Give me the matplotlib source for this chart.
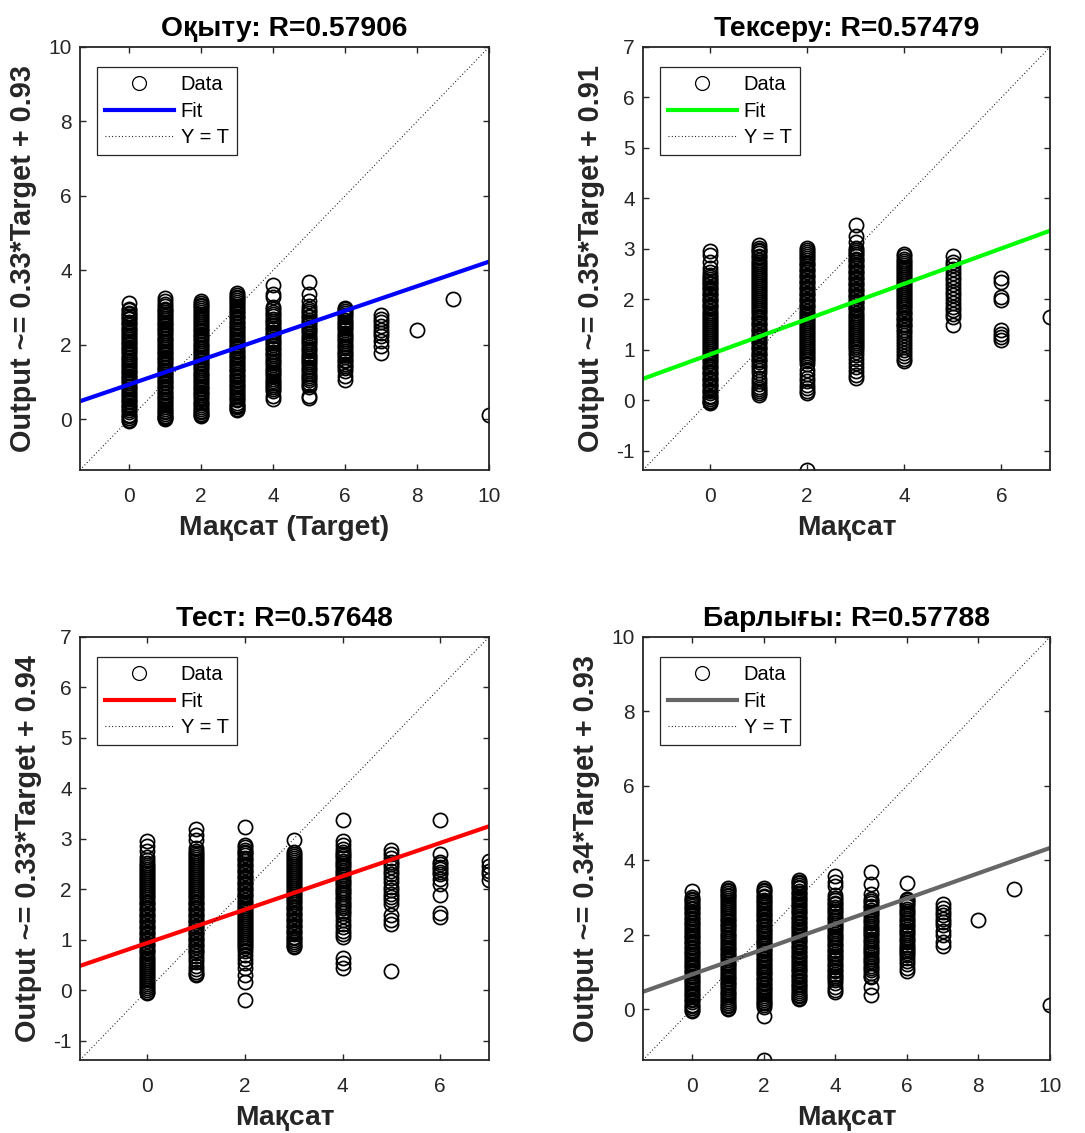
import matplotlib
matplotlib.use('Agg')
import matplotlib.pyplot as plt
from matplotlib.lines import Line2D
import numpy as np

plt.rcParams['font.family'] = ['Liberation Sans', 'DejaVu Sans']
plt.rcParams['axes.unicode_minus'] = False

train_targets = [0, 1, 2, 3, 4, 5, 6, 7, 8, 9, 10]
train_outputs = [
    [3.12, 2.97, 2.93, 2.86, 2.83, 2.77, 2.71, 2.68, 2.61, 2.57, 2.52, 2.45, 2.42, 2.36, 2.31, 2.27, 2.2, 2.16, 2.11,
     2.05, 2.01, 1.94, 1.9, 1.85, 1.79, 1.75, 1.68, 1.64, 1.59, 1.53, 1.49, 1.42, 1.38, 1.33, 1.27, 1.23, 1.16, 1.12,
     1.07, 1.01, 0.97, 0.9, 0.86, 0.81, 0.75, 0.71, 0.64, 0.6, 0.55, 0.49, 0.45, 0.38, 0.34, 0.29, 0.23, 0.19, 0.12,
     0.08, 0.03, -0.02, -0.06],
    [3.26, 3.17, 3.08, 3.04, 2.97, 2.93, 2.88, 2.82, 2.78, 2.71, 2.67, 2.62, 2.56, 2.52, 2.45, 2.41, 2.36, 2.3, 2.26,
     2.19, 2.15, 2.1, 2.04, 2.0, 1.93, 1.89, 1.84, 1.78, 1.74, 1.67, 1.63, 1.58, 1.52, 1.48, 1.41, 1.37, 1.32, 1.26,
     1.22, 1.15, 1.11, 1.06, 1.0, 0.96, 0.89, 0.85, 0.8, 0.74, 0.7, 0.63, 0.59, 0.54, 0.48, 0.44, 0.37, 0.33, 0.28,
     0.22, 0.18, 0.13, 0.09, 0.05, 0.02, -0.01],
    [3.16, 3.12, 3.07, 3.03, 2.98, 2.92, 2.88, 2.81, 2.77, 2.72, 2.66, 2.62, 2.55, 2.51, 2.46, 2.4, 2.36, 2.29, 2.25,
     2.2, 2.14, 2.1, 2.03, 1.99, 1.94, 1.88, 1.84, 1.77, 1.73, 1.68, 1.62, 1.58, 1.51, 1.47, 1.42, 1.36, 1.32, 1.25,
     1.21, 1.16, 1.1, 1.06, 0.99, 0.95, 0.9, 0.84, 0.8, 0.73, 0.69, 0.64, 0.58, 0.54, 0.47, 0.43, 0.38, 0.32, 0.28,
     0.22, 0.18, 0.14, 0.1, 0.07],
    [3.38, 3.34, 3.29, 3.24, 3.2, 3.14, 3.1, 3.03, 2.99, 2.94, 2.88, 2.84, 2.77, 2.73, 2.68, 2.62, 2.58, 2.51, 2.47,
     2.42, 2.36, 2.32, 2.25, 2.21, 2.16, 2.1, 2.06, 1.99, 1.95, 1.9, 1.84, 1.8, 1.73, 1.69, 1.64, 1.58, 1.54, 1.47,
     1.43, 1.38, 1.32, 1.28, 1.21, 1.17, 1.12, 1.06, 1.02, 0.95, 0.91, 0.86, 0.8, 0.76, 0.69, 0.65, 0.6, 0.54, 0.5,
     0.44, 0.39, 0.35, 0.31, 0.28, 0.25],
    [3.6, 3.35, 3.27, 3.0, 2.95, 2.89, 2.82, 2.77, 2.7, 2.64, 2.59, 2.52, 2.46, 2.41, 2.34, 2.28, 2.23, 2.16, 2.1,
     2.05, 1.98, 1.92, 1.87, 1.8, 1.74, 1.69, 1.62, 1.56, 1.51, 1.44, 1.38, 1.33, 1.26, 1.2, 1.15, 1.08, 1.02, 0.97,
     0.91, 0.86, 0.8, 0.75, 0.62, 0.54],
    [3.67, 3.35, 3.17, 3.04, 2.96, 2.91, 2.84, 2.78, 2.73, 2.66, 2.6, 2.55, 2.48, 2.42, 2.37, 2.3, 2.24, 2.19, 2.12,
     2.06, 2.01, 1.94, 1.88, 1.83, 1.76, 1.7, 1.65, 1.58, 1.52, 1.47, 1.4, 1.34, 1.29, 1.22, 1.16, 1.11, 1.04, 0.98,
     0.92, 0.85, 0.62, 0.57],
    [2.99, 2.95, 2.9, 2.84, 2.79, 2.73, 2.67, 2.62, 2.56, 2.5, 2.45, 2.38, 2.32, 2.27, 2.2, 2.14, 2.09, 2.02, 1.96,
     1.91, 1.84, 1.78, 1.73, 1.66, 1.6, 1.55, 1.48, 1.42, 1.36, 1.3, 1.17, 1.04],
    [2.8, 2.7, 2.6, 2.5, 2.4, 2.32, 2.22, 2.1, 1.95, 1.78],
    [2.38],
    [3.22],
    [0.12],
]

val_targets = [0, 1, 2, 3, 4, 5, 6, 7]
val_outputs = [
    [2.96, 2.88, 2.75, 2.62, 2.55, 2.49, 2.44, 2.41, 2.37, 2.33, 2.3, 2.25, 2.22, 2.18, 2.13, 2.1, 2.06, 2.01, 1.98,
     1.94, 1.89, 1.86, 1.82, 1.77, 1.74, 1.7, 1.65, 1.62, 1.58, 1.53, 1.5, 1.46, 1.41, 1.38, 1.34, 1.29, 1.26, 1.22,
     1.17, 1.14, 1.1, 1.05, 1.02, 0.98, 0.93, 0.9, 0.86, 0.81, 0.78, 0.74, 0.69, 0.66, 0.62, 0.57, 0.54, 0.5, 0.45,
     0.42, 0.38, 0.33, 0.3, 0.26, 0.21, 0.18, 0.14, 0.09, 0.06, 0.02, -0.01, -0.03, -0.05],
    [3.07, 3.02, 2.98, 2.95, 2.91, 2.86, 2.83, 2.79, 2.74, 2.71, 2.67, 2.62, 2.59, 2.55, 2.5, 2.47, 2.43, 2.38, 2.35,
     2.31, 2.26, 2.23, 2.19, 2.14, 2.11, 2.07, 2.02, 1.99, 1.95, 1.9, 1.87, 1.83, 1.78, 1.75, 1.71, 1.66, 1.63, 1.59,
     1.54, 1.51, 1.47, 1.42, 1.39, 1.35, 1.3, 1.27, 1.23, 1.18, 1.15, 1.11, 1.06, 1.03, 0.99, 0.94, 0.91, 0.87, 0.82,
     0.79, 0.75, 0.7, 0.66, 0.6, 0.55, 0.45, 0.38, 0.33, 0.27, 0.22, 0.18, 0.14, 0.1],
    [3.01, 2.97, 2.94, 2.9, 2.85, 2.82, 2.78, 2.73, 2.7, 2.66, 2.61, 2.58, 2.54, 2.49, 2.46, 2.42, 2.37, 2.34, 2.3,
     2.25, 2.22, 2.18, 2.13, 2.1, 2.06, 2.01, 1.98, 1.94, 1.89, 1.86, 1.82, 1.77, 1.74, 1.7, 1.65, 1.62, 1.58, 1.53,
     1.5, 1.46, 1.41, 1.38, 1.34, 1.29, 1.26, 1.22, 1.17, 1.14, 1.1, 1.05, 1.02, 0.98, 0.93, 0.9, 0.86, 0.81, 0.77,
     0.72, 0.6, 0.52, 0.45, 0.38, 0.3, 0.24, 0.19, 0.14, -1.38],
    [3.48, 3.26, 3.13, 3.02, 2.98, 2.93, 2.9, 2.86, 2.81, 2.78, 2.74, 2.69, 2.66, 2.62, 2.57, 2.54, 2.5, 2.45, 2.42,
     2.38, 2.33, 2.3, 2.26, 2.21, 2.18, 2.14, 2.09, 2.06, 2.02, 1.97, 1.94, 1.9, 1.85, 1.82, 1.78, 1.73, 1.7, 1.66,
     1.61, 1.58, 1.54, 1.49, 1.46, 1.42, 1.37, 1.34, 1.3, 1.25, 1.22, 1.18, 1.13, 1.1, 1.06, 1.01, 0.96, 0.9, 0.82,
     0.74, 0.66, 0.58, 0.51, 0.45],
    [2.89, 2.85, 2.81, 2.77, 2.72, 2.69, 2.65, 2.6, 2.57, 2.53, 2.48, 2.45, 2.41, 2.36, 2.33, 2.29, 2.24, 2.21, 2.17,
     2.12, 2.09, 2.05, 2.0, 1.97, 1.93, 1.88, 1.85, 1.81, 1.76, 1.73, 1.69, 1.64, 1.61, 1.57, 1.52, 1.49, 1.45, 1.4,
     1.36, 1.3, 1.24, 1.18, 1.12, 1.06, 1.0, 0.94, 0.88, 0.82, 0.78],
    [2.86, 2.75, 2.68, 2.6, 2.52, 2.45, 2.38, 2.3, 2.22, 2.15, 2.08, 2.0, 1.92, 1.85, 1.78, 1.72, 1.65, 1.5],
    [2.42, 2.34, 2.04, 1.99, 1.39, 1.32, 1.25, 1.2],
    [1.65],
]

test_targets = [0, 1, 2, 3, 4, 5, 6, 7]
test_outputs = [
    [2.95, 2.86, 2.76, 2.65, 2.58, 2.52, 2.48, 2.45, 2.41, 2.36, 2.33, 2.29, 2.24, 2.21, 2.17, 2.12, 2.09, 2.05, 2.0,
     1.97, 1.93, 1.88, 1.85, 1.81, 1.76, 1.73, 1.69, 1.64, 1.61, 1.57, 1.52, 1.49, 1.45, 1.4, 1.37, 1.33, 1.28, 1.25,
     1.21, 1.16, 1.13, 1.09, 1.04, 1.01, 0.97, 0.92, 0.89, 0.85, 0.8, 0.77, 0.73, 0.68, 0.65, 0.61, 0.56, 0.53, 0.49,
     0.44, 0.41, 0.37, 0.32, 0.29, 0.25, 0.2, 0.17, 0.13, 0.08, 0.05, 0.01, -0.03, -0.06],
    [3.2, 3.07, 2.98, 2.82, 2.76, 2.72, 2.69, 2.65, 2.6, 2.57, 2.53, 2.48, 2.45, 2.41, 2.36, 2.33, 2.29, 2.24, 2.21,
     2.17, 2.12, 2.09, 2.05, 2.0, 1.97, 1.93, 1.88, 1.85, 1.81, 1.76, 1.73, 1.69, 1.64, 1.61, 1.57, 1.52, 1.49, 1.45,
     1.4, 1.37, 1.33, 1.28, 1.25, 1.21, 1.16, 1.13, 1.09, 1.04, 1.01, 0.97, 0.92, 0.89, 0.85, 0.8, 0.77, 0.73, 0.68,
     0.63, 0.57, 0.48, 0.42, 0.37, 0.33, 0.3],
    [3.23, 2.88, 2.83, 2.79, 2.75, 2.72, 2.68, 2.63, 2.6, 2.56, 2.51, 2.48, 2.44, 2.39, 2.36, 2.32, 2.27, 2.24, 2.2,
     2.15, 2.12, 2.08, 2.03, 2.0, 1.96, 1.91, 1.88, 1.84, 1.79, 1.76, 1.72, 1.67, 1.64, 1.6, 1.55, 1.52, 1.48, 1.43,
     1.4, 1.36, 1.31, 1.28, 1.24, 1.19, 1.16, 1.12, 1.07, 1.04, 1.0, 0.95, 0.92, 0.88, 0.84, 0.78, 0.7, 0.62, 0.55,
     0.45, 0.3, 0.16, -0.19],
    [2.97, 2.74, 2.71, 2.67, 2.62, 2.59, 2.55, 2.5, 2.47, 2.43, 2.38, 2.35, 2.31, 2.26, 2.23, 2.19, 2.14, 2.11, 2.07,
     2.02, 1.99, 1.95, 1.9, 1.87, 1.83, 1.78, 1.75, 1.71, 1.66, 1.63, 1.59, 1.54, 1.51, 1.47, 1.42, 1.39, 1.35, 1.3,
     1.27, 1.23, 1.18, 1.15, 1.11, 1.06, 1.03, 0.99, 0.95, 0.91, 0.88, 0.85],
    [3.38, 2.95, 2.88, 2.8, 2.75, 2.71, 2.66, 2.62, 2.57, 2.53, 2.48, 2.44, 2.39, 2.35, 2.3, 2.26, 2.21, 2.17, 2.12,
     2.08, 2.03, 1.99, 1.94, 1.9, 1.85, 1.81, 1.76, 1.72, 1.67, 1.63, 1.58, 1.53, 1.47, 1.4, 1.32, 1.25, 1.18, 1.11,
     1.05, 0.65, 0.55, 0.45],
    [2.78, 2.71, 2.62, 2.55, 2.5, 2.44, 2.37, 2.3, 2.22, 2.15, 2.05, 1.98, 1.91, 1.85, 1.78, 1.72, 1.5, 1.4, 1.31, 0.39],
    [3.38, 2.71, 2.55, 2.5, 2.45, 2.4, 2.35, 2.3, 2.2, 2.1, 1.89, 1.53, 1.45],
    [2.56, 2.46, 2.36, 2.3, 2.18],
]

all_targets = [0, 1, 2, 3, 4, 5, 6, 7, 8, 9, 10]
all_outputs = [
    [3.16, 3.02, 2.97, 2.93, 2.87, 2.83, 2.78, 2.72, 2.68, 2.61, 2.57, 2.52, 2.46, 2.42, 2.35, 2.31, 2.26, 2.2, 2.16,
     2.09, 2.05, 2.0, 1.94, 1.9, 1.83, 1.79, 1.74, 1.68, 1.64, 1.57, 1.53, 1.48, 1.42, 1.38, 1.31, 1.27, 1.22, 1.16,
     1.12, 1.05, 1.01, 0.96, 0.9, 0.86, 0.79, 0.75, 0.7, 0.64, 0.6, 0.53, 0.49, 0.44, 0.38, 0.34, 0.27, 0.23, 0.18,
     0.12, 0.08, 0.03, -0.02, -0.06],
    [3.25, 3.21, 3.17, 3.13, 3.07, 3.03, 2.98, 2.92, 2.88, 2.81, 2.77, 2.72, 2.66, 2.62, 2.55, 2.51, 2.46, 2.4, 2.36,
     2.29, 2.25, 2.2, 2.14, 2.1, 2.03, 1.99, 1.94, 1.88, 1.84, 1.77, 1.73, 1.68, 1.62, 1.58, 1.51, 1.47, 1.42, 1.36,
     1.32, 1.25, 1.21, 1.16, 1.1, 1.06, 0.99, 0.95, 0.9, 0.84, 0.8, 0.73, 0.69, 0.64, 0.58, 0.54, 0.47, 0.43, 0.38,
     0.32, 0.28, 0.21, 0.17, 0.12, 0.07, 0.03, -0.01],
    [3.25, 3.2, 3.16, 3.11, 3.05, 3.01, 2.94, 2.9, 2.85, 2.79, 2.75, 2.68, 2.64, 2.59, 2.53, 2.49, 2.42, 2.38, 2.33,
     2.27, 2.23, 2.16, 2.12, 2.07, 2.01, 1.97, 1.9, 1.86, 1.81, 1.75, 1.71, 1.64, 1.6, 1.55, 1.49, 1.45, 1.38, 1.34,
     1.29, 1.23, 1.19, 1.12, 1.08, 1.03, 0.97, 0.93, 0.86, 0.82, 0.77, 0.71, 0.67, 0.6, 0.56, 0.51, 0.45, 0.41, 0.34,
     0.3, 0.25, 0.19, 0.15, 0.1, 0.06, -0.2, -1.37],
    [3.47, 3.42, 3.38, 3.33, 3.28, 3.24, 3.18, 3.13, 3.09, 3.02, 2.98, 2.93, 2.87, 2.83, 2.76, 2.72, 2.67, 2.61, 2.57,
     2.5, 2.46, 2.41, 2.35, 2.31, 2.24, 2.2, 2.15, 2.09, 2.05, 1.98, 1.94, 1.89, 1.83, 1.79, 1.72, 1.68, 1.63, 1.57,
     1.53, 1.46, 1.42, 1.37, 1.31, 1.27, 1.2, 1.16, 1.11, 1.05, 1.01, 0.94, 0.9, 0.85, 0.79, 0.75, 0.68, 0.64, 0.59,
     0.53, 0.49, 0.43, 0.38, 0.34, 0.3, 0.27],
    [3.58, 3.42, 3.3, 3.06, 2.98, 2.93, 2.86, 2.81, 2.75, 2.68, 2.63, 2.57, 2.5, 2.45, 2.39, 2.32, 2.27, 2.21, 2.14,
     2.09, 2.03, 1.96, 1.91, 1.85, 1.78, 1.73, 1.67, 1.6, 1.55, 1.49, 1.42, 1.37, 1.31, 1.24, 1.19, 1.13, 1.06, 1.01,
     0.95, 0.88, 0.83, 0.77, 0.7, 0.6, 0.52, 0.45],
    [3.68, 3.35, 3.1, 2.96, 2.91, 2.85, 2.78, 2.73, 2.67, 2.6, 2.55, 2.49, 2.42, 2.37, 2.31, 2.24, 2.19, 2.13, 2.06,
     2.01, 1.95, 1.88, 1.83, 1.77, 1.7, 1.65, 1.59, 1.52, 1.47, 1.41, 1.34, 1.29, 1.23, 1.16, 1.1, 1.04, 0.98, 0.9,
     0.85, 0.58, 0.39],
    [3.4, 2.96, 2.92, 2.87, 2.81, 2.76, 2.7, 2.63, 2.58, 2.52, 2.45, 2.4, 2.34, 2.27, 2.22, 2.16, 2.09, 2.04, 1.98,
     1.91, 1.86, 1.8, 1.73, 1.68, 1.62, 1.55, 1.5, 1.44, 1.37, 1.3, 1.2, 1.1, 1.02],
    [2.82, 2.72, 2.62, 2.52, 2.43, 2.35, 2.25, 2.1, 2.0, 1.8, 1.7],
    [2.38],
    [3.22],
    [0.12],
]

titles = ['Оқыту: R=0.57906', 'Тексеру: R=0.57479', 'Тест: R=0.57648', 'Барлығы: R=0.57788']
xlabels = ['Мақсат (Target)', 'Мақсат', 'Мақсат', 'Мақсат']
slopes = [0.33, 0.35, 0.33, 0.34]
intercepts = [0.93, 0.91, 0.94, 0.93]
fit_colors = ['#0000ff', '#00ff00', '#ff0000', '#666666']
axis_low = [-1.37, -1.38, -1.38, -1.37]
axis_high = [10, 7, 7, 10]

INK = '#262626'
W, H = 1085, 1133
fig = plt.figure(figsize=(W / 100, H / 100), dpi=100)

# axes boxes in pixels: left, top, right, bottom
boxes = [(80, 47, 489, 470), (643, 47, 1050, 470), (80, 637, 489, 1060), (643, 637, 1050, 1060)]
panels = [(train_targets, train_outputs), (val_targets, val_outputs),
          (test_targets, test_outputs), (all_targets, all_outputs)]

for i, (box, (targets, outputs)) in enumerate(zip(boxes, panels)):
    l, t, r, b = box
    ax = fig.add_axes([l / W, 1 - b / H, (r - l) / W, (b - t) / H])
    lo, hi = axis_low[i], axis_high[i]

    xs = np.concatenate([[tg] * len(out) for tg, out in zip(targets, outputs)])
    ys = np.concatenate(outputs)
    ax.plot(xs, ys, 'o', ls='none', mfc='none', mec='black', ms=10.2, mew=1.25)

    lim = np.array([lo, hi])
    ax.plot(lim, slopes[i] * lim + intercepts[i], color=fit_colors[i], lw=3)
    ax.plot(lim, lim, color='black', lw=0.8, dashes=(0.8, 2.2))

    ax.set_xlim(lo, hi)
    ax.set_ylim(lo, hi)
    if hi == 10:
        ax.set_xticks([0, 2, 4, 6, 8, 10])
        ax.set_yticks([0, 2, 4, 6, 8, 10])
    else:
        ax.set_xticks([0, 2, 4, 6])
        ax.set_yticks([-1, 0, 1, 2, 3, 4, 5, 6, 7])

    for sp in ax.spines.values():
        sp.set_color(INK)
        sp.set_linewidth(1.3)
    ax.tick_params(direction='in', length=4, width=1, color=INK, labelcolor=INK,
                   labelsize=15, top=True, right=True)
    ax.tick_params(axis='x', pad=12)
    ax.tick_params(axis='y', pad=6)

    ax.set_title(titles[i], fontsize=20.3, fontweight='bold', pad=8)
    ax.set_xlabel(xlabels[i], fontsize=20.3, fontweight='bold', color=INK, labelpad=7)
    ax.set_ylabel(f'Output ~= {slopes[i]:.2f}*Target + {intercepts[i]:.2f}',
                  fontsize=20.8, fontweight='bold', color=INK, labelpad=8)

    handles = [
        Line2D([], [], ls='none', marker='o', mfc='none', mec='black', ms=10, mew=0.9),
        Line2D([], [], color=fit_colors[i], lw=3),
        Line2D([], [], color='black', lw=0.8, dashes=(0.8, 2.2)),
    ]
    leg = ax.legend(handles, ['Data', 'Fit', 'Y = T'], loc='upper left',
                    bbox_to_anchor=(17 / (r - l), 1 - 20 / (b - t)),
                    borderaxespad=0, fontsize=14.5, handlelength=3.4, handletextpad=0.35,
                    labelspacing=0.38, borderpad=0.4, fancybox=False, framealpha=1)
    leg.get_frame().set_edgecolor(INK)
    leg.get_frame().set_linewidth(0.9)

fig.savefig('out.png', dpi=100, facecolor='white')
